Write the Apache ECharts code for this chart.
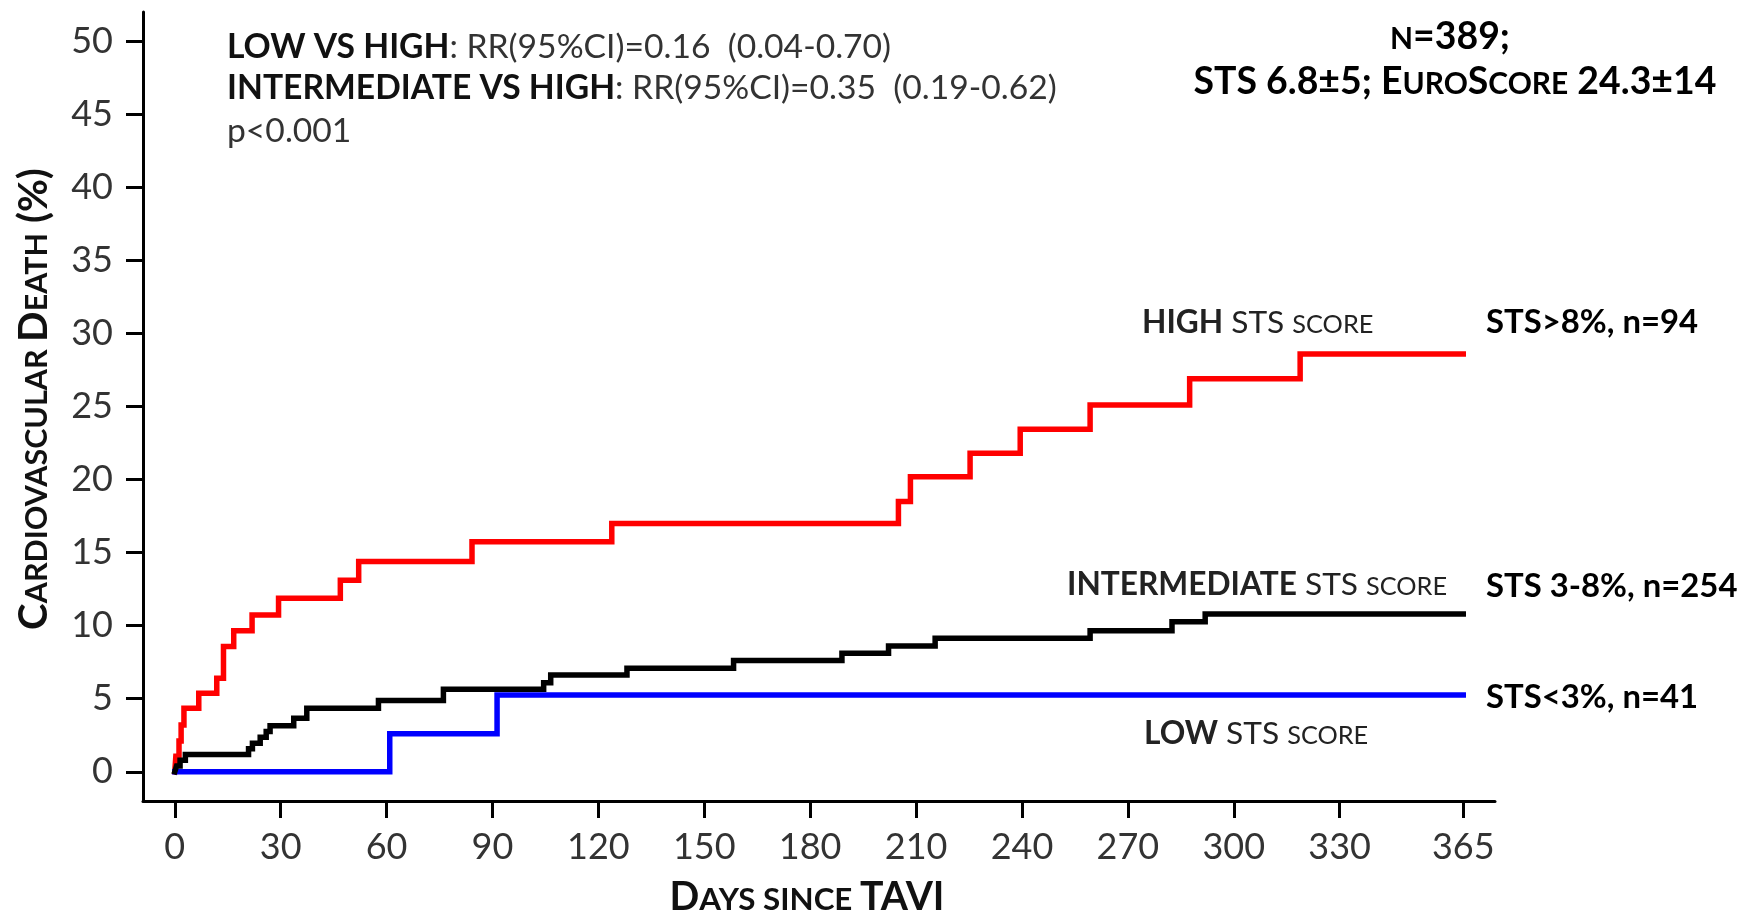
<!DOCTYPE html>
<html><head><meta charset="utf-8">
<script src="https://cdn.jsdelivr.net/npm/echarts@6/dist/echarts.min.js"></script>
<style>html,body{margin:0;padding:0;background:#fff}#c{width:1740px;height:912px}</style>
</head><body><div id="c"></div>
<script>
// ---- data ----
const highDays = [0, 0.3, 1.2, 1.8, 2.6, 6.8, 11.9, 13.8, 16.7, 21.9, 29.4, 46.9, 52.1, 84.2, 123.8, 205, 208.4, 225.3, 239.5, 259.3, 287.5, 318.8, 365];
const highRisk = [0, 1.06, 2.1, 3.2, 4.35, 5.38, 6.4, 8.57, 9.66, 10.73, 11.87, 13.1, 14.4, 15.74, 17.0, 18.5, 20.2, 21.8, 23.45, 25.1, 26.9, 28.6, 28.6];
const midDays = [0, 0.5, 1.5, 3, 20.9, 22, 24.2, 25.9, 27, 33.7, 37.4, 57.7, 76.1, 104.5, 106.5, 128.1, 158.3, 189, 202.2, 215.4, 259.3, 282.5, 291.9, 365];
const midRisk = [0, 0.39, 0.79, 1.18, 1.57, 1.96, 2.36, 2.75, 3.15, 3.67, 4.35, 4.87, 5.65, 6.1, 6.63, 7.09, 7.61, 8.11, 8.61, 9.14, 9.66, 10.27, 10.8, 10.8];
const lowDays = [0, 60.9, 91.3, 365];
const lowRisk = [0, 2.6, 5.26, 5.26];
const xTicks = [0, 30, 60, 90, 120, 150, 180, 210, 240, 270, 300, 330, 365];
const yTicks = [0, 5, 10, 15, 20, 25, 30, 35, 40, 45, 50];

const FONT = 'Lato';
const ctx = document.createElement('canvas').getContext('2d');
function tw(text, size, weight) { ctx.font = weight + ' ' + size + 'px ' + FONT; return ctx.measureText(text).width; }
function fit(segs, target) { let t = 0; segs.forEach(s => t += tw(s[0], 100 * s[1], s[2])); return 100 * target / t; }
function layout(segs, S, x0, cy, align, fill) {
  const widths = segs.map(s => tw(s[0], S * s[1], s[2]));
  const total = widths.reduce((a, b) => a + b, 0);
  let x = align === 'center' ? x0 - total / 2 : x0;
  const base = cy + 0.358 * S;
  const els = [];
  segs.forEach((s, i) => {
    const sz = S * s[1];
    els.push({ type: 'text', x: x, y: base - 0.3225 * sz, silent: true,
      style: { text: s[0], fill: s[3] || fill, font: s[2] + ' ' + sz + 'px ' + FONT, textAlign: 'left', textVerticalAlign: 'middle' } });
    x += widths[i];
  });
  return els;
}

const B = 'bold', N = 'normal';
const g = [];
// top-left statistics
const L1 = [['LOW VS HIGH', 1, B, '#111'], [': RR(95%CI)=0.16  (0.04-0.70)', 1, N]];
const L2 = [['INTERMEDIATE VS HIGH', 1, B, '#111'], [': RR(95%CI)=0.35  (0.19-0.62)', 1, N]];
const L3 = [['p<0.001', 1, N]];
const SL = (fit(L1, 670) + fit(L2, 823)) / 2;
g.push(...layout(L1, SL, 227, 46, 'left', '#333'));
g.push(...layout(L2, SL, 227, 87, 'left', '#333'));
g.push(...layout(L3, SL, 227, 130, 'left', '#333'));
// top-right
const SC = 0.8;
const T2 = [['STS 6.8±5; ', 1, B], ['E', 1, B], ['URO', SC, B], ['S', 1, B], ['CORE', SC, B], [' 24.3±14', 1, B]];
const T1 = [['N', SC, B], ['=389;', 1, B]];
const ST = fit(T2, 523);
g.push(...layout(T1, ST, 1450, 36, 'center', '#000'));
g.push(...layout(T2, ST, 1455, 81, 'center', '#000'));
// curve labels
const CH = [['HIGH', 1, B], [' STS ', 1, N], ['SCORE', SC, N]];
const CI = [['INTERMEDIATE', 1, B], [' STS ', 1, N], ['SCORE', SC, N]];
const CL = [['LOW', 1, B], [' STS ', 1, N], ['SCORE', SC, N]];
const SCv = (fit(CH, 231) + fit(CI, 378) + fit(CL, 226)) / 3;
g.push(...layout(CH, SCv, 1142, 322, 'left', '#222'));
g.push(...layout(CI, SCv, 1067, 584, 'left', '#222'));
g.push(...layout(CL, SCv, 1144, 733, 'left', '#222'));
// right labels
const R1 = [['STS>8%, n=94', 1, B]], R2 = [['STS 3-8%, n=254', 1, B]], R3 = [['STS<3%, n=41', 1, B]];
const SR = (fit(R1, 213) + fit(R2, 251) + fit(R3, 212)) / 3;
g.push(...layout(R1, SR, 1486, 321, 'left', '#000'));
g.push(...layout(R2, SR, 1486, 585, 'left', '#000'));
g.push(...layout(R3, SR, 1486, 696, 'left', '#000'));
// axis titles
const YT = [['C', 1, B], ['ARDIOVASCULAR', 0.76, B], [' ', 0.76, B], ['D', 1, B], ['EATH', 0.76, B], [' (%)', 1, B]];
const SY = fit(YT, 462);
g.push({ type: 'group', x: 33, y: 399, rotation: Math.PI / 2, children: layout(YT, SY, 0, 0, 'center', '#111') });
const XT = [['D', 1, B], ['AYS SINCE ', 0.8, B], ['TAVI', 1, B]];
const SX = fit(XT, 275);
g.push(...layout(XT, SX, 807, 896, 'center', '#111'));

const chart = echarts.init(document.getElementById('c'), null, { renderer: 'canvas' });
const mk = (days, vals) => days.map((d, i) => [d, vals[i]]);
const lineS = (name, days, vals, color, z) => ({
  name, type: 'line', step: 'end', data: mk(days, vals), showSymbol: false, symbol: 'none', z,
  lineStyle: { color, width: 5.5, cap: 'square', join: 'miter' }, itemStyle: { color }, emphasis: { disabled: true }
});
chart.setOption({
  animation: false,
  backgroundColor: '#fff',
  grid: { left: 143, right: 245, top: 12, bottom: 111, containLabel: false, outerBoundsMode: 'none' },
  xAxis: {
    type: 'value', min: -9, max: 374,
    axisLine: { onZero: false, lineStyle: { color: '#000', width: 3 } },
    axisTick: { show: true, length: 17, customValues: xTicks, lineStyle: { color: '#000', width: 3 } },
    axisLabel: { customValues: xTicks, fontSize: 36, fontFamily: FONT, color: '#333', margin: 28 },
    splitLine: { show: false }
  },
  yAxis: {
    type: 'value', min: -2, max: 52,
    axisLine: { show: true, onZero: false, lineStyle: { color: '#000', width: 3 } },
    axisTick: { show: true, length: 17, customValues: yTicks, lineStyle: { color: '#000', width: 3 } },
    axisLabel: { customValues: yTicks, fontSize: 36, fontFamily: FONT, color: '#333', margin: 30 },
    splitLine: { show: false }
  },
  series: [
    lineS('High STS score', highDays, highRisk, '#ff0000', 2),
    lineS('Low STS score', lowDays, lowRisk, '#0000ff', 3),
    lineS('Intermediate STS score', midDays, midRisk, '#000000', 4)
  ],
  graphic: { elements: g }
});
</script></body></html>
